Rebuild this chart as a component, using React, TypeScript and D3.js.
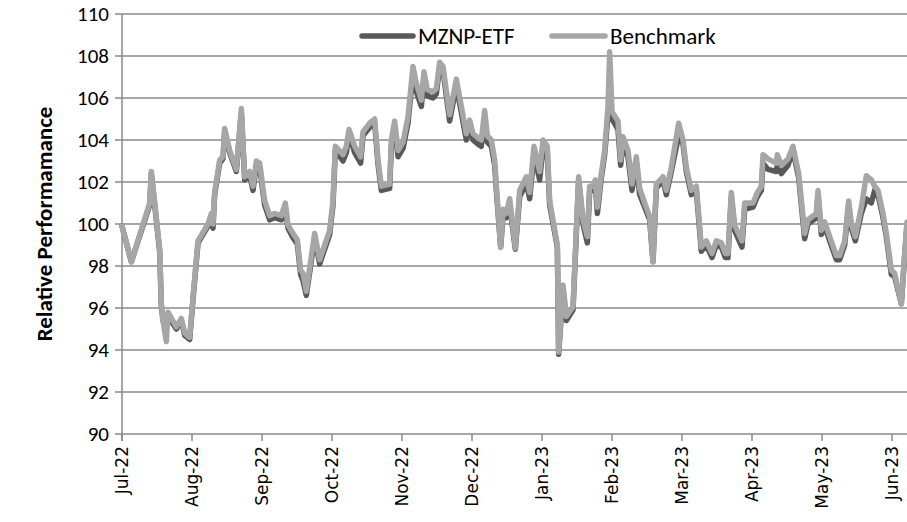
import * as d3 from 'd3'

const W = 907
const H = 522

// month labels, one per 21 trading days
const months = ['Jul-22', 'Aug-22', 'Sep-22', 'Oct-22', 'Nov-22', 'Dec-22', 'Jan-23', 'Feb-23', 'Mar-23', 'Apr-23', 'May-23', 'Jun-23']
const daysPerMonth = 21

// trading day index of each vertex
const days = [
  0, 2.8, 8.3, 8.8, 11.3, 11.8, 12.3, 13.3, 13.8, 16.3, 17.8, 18.8, 20.3,
  21.3, 22.8, 25.8, 26.8, 27.3, 27.8, 29.3, 30.3, 30.8, 32.3, 34.3, 35.8, 36.8, 38.3, 39.3, 40.3, 41.3,
  42.8, 44.3, 45.8, 47.8, 49.0, 49.8, 51.3, 52.6, 53.6, 54.3, 55.3, 57.8, 59.3, 62.3,
  63.3, 64.0, 66.3, 67.3, 68.1, 69.8, 71.6, 72.3, 74.3, 75.8, 76.8, 77.8, 80.3,
  80.8, 81.8, 82.8, 84.3, 85.8, 87.3, 88.3, 89.8, 90.6, 91.6, 93.3, 94.3, 95.3, 96.3,
  98.3, 100.3, 101.8, 103.3, 104.3, 105.3, 106.8, 107.8, 108.8, 109.6, 110.8, 111.8, 112.3, 113.6, 114.3, 115.3, 116.3,
  118.0, 119.3, 121.3, 122.3, 123.6, 125.3, 126.3, 127.6, 128.3, 130.6, 131.0, 132.3, 133.3, 135.3,
  137.0, 138.3, 139.6, 140.3, 141.3, 142.0, 142.6, 143.8, 144.8, 145.8, 146.3, 147.0, 148.8, 149.6, 150.3, 151.8, 153.0, 154.3, 155.3, 156.8, 158.3, 159.3,
  160.3, 162.3, 163.3, 164.8, 167.0, 168.3, 169.3, 170.8, 172.3, 173.8, 175.3, 177.0, 178.3, 179.8, 181.0, 181.8,
  182.8, 183.8, 186.0, 186.8, 189.3, 190.6, 191.8, 192.3, 193.8, 196.3, 196.6, 197.8, 199.8, 201.3, 203.0,
  204.8, 205.8, 208.3, 208.8, 209.8, 210.8, 212.3, 214.3, 215.3, 216.8, 218.0, 218.8, 220.0, 221.8, 223.3, 224.8, 225.8, 226.8,
  228.3, 229.3, 230.8, 231.8, 233.8, 234.8, 235.5,
]

const benchmark = [
  99.9, 98.2, 101.0, 102.5, 98.8, 96.2, 95.4, 94.4, 95.8, 95.1, 95.5, 94.8, 94.6,
  96.5, 99.2, 100.0, 100.5, 100.0, 101.5, 103.05, 103.2, 104.55, 103.5, 102.6, 105.5, 102.25, 102.5, 101.8, 103.0, 102.9,
  101.1, 100.4, 100.5, 100.4, 101.0, 99.95, 99.55, 99.25, 97.8, 97.65, 96.8, 99.55, 98.3, 99.7,
  101.1, 103.7, 103.3, 103.7, 104.5, 103.7, 103.2, 104.4, 104.8, 105.0, 103.05, 101.8, 101.9,
  104.0, 104.9, 103.5, 103.9, 105.1, 107.5, 106.7, 105.9, 107.25, 106.4, 106.3, 106.45, 107.7, 107.5,
  105.2, 106.9, 105.6, 104.3, 104.95, 104.3, 104.1, 104.0, 105.4, 104.2, 104.0, 103.05, 101.8, 98.9, 100.7, 100.5, 101.2,
  98.85, 101.6, 102.25, 101.5, 103.7, 102.5, 104.0, 103.7, 101.1, 99.0, 93.9, 97.1, 95.6, 96.05,
  102.25, 100.2, 99.4, 101.8, 101.8, 102.1, 100.8, 102.4, 103.5, 105.6, 108.2, 105.35, 104.9, 103.05, 104.15, 103.5, 101.9, 103.2, 101.7, 101.0, 100.35, 98.2,
  101.9, 102.25, 101.6, 102.7, 104.8, 104.0, 102.7, 101.6, 101.8, 98.9, 99.2, 98.6, 99.2, 99.1, 98.6, 98.6,
  101.5, 99.95, 99.2, 101.0, 101.0, 101.5, 101.8, 103.3, 103.1, 102.9, 103.3, 102.8, 103.1, 103.7, 102.4,
  99.55, 100.2, 100.5, 101.6, 99.7, 100.1, 99.4, 98.5, 98.5, 99.2, 101.1, 100.0, 99.4, 100.8, 102.3, 102.1, 101.8, 101.6,
  100.5, 99.55, 97.8, 97.65, 96.2, 98.6, 100.1,
]

const mznp = [
  99.9, 98.2, 100.9, 102.4, 98.7, 96.1, 95.4, 95.3, 95.6, 95.0, 95.4, 94.7, 94.5,
  96.4, 99.1, 99.9, 100.4, 99.8, 101.4, 102.9, 103.1, 104.4, 103.4, 102.5, 105.3, 102.1, 102.35, 101.6, 102.8, 102.7,
  100.9, 100.2, 100.3, 100.2, 100.8, 99.8, 99.35, 99.05, 97.6, 97.3, 96.6, 99.35, 98.1, 99.5,
  100.9, 103.5, 103.0, 103.4, 104.3, 103.4, 102.9, 104.2, 104.6, 104.8, 102.85, 101.6, 101.7,
  103.7, 104.6, 103.2, 103.6, 104.8, 107.2, 106.3, 105.6, 107.0, 106.1, 106.0, 106.2, 107.5, 107.3,
  104.9, 106.6, 105.3, 104.0, 104.7, 104.0, 103.8, 103.7, 105.1, 103.9, 103.7, 102.8, 101.6, 98.9, 100.4, 100.3, 100.9,
  98.8, 101.3, 101.95, 101.2, 103.3, 102.1, 103.6, 103.3, 100.9, 98.9, 93.8, 96.9, 95.4, 95.9,
  102.1, 100.0, 99.1, 101.6, 101.6, 101.9, 100.5, 102.2, 103.3, 105.2, 105.3, 105.0, 104.5, 102.8, 103.8, 103.2, 101.6, 102.9, 101.4, 100.8, 100.2, 98.2,
  101.7, 102.1, 101.4, 102.5, 104.2, 103.8, 102.5, 101.4, 101.6, 98.7, 99.0, 98.4, 99.0, 98.9, 98.4, 98.4,
  101.3, 99.7, 98.9, 100.7, 100.8, 101.3, 101.6, 102.9, 102.6, 102.5, 102.8, 102.4, 102.8, 103.5, 102.2,
  99.3, 100.0, 100.3, 101.4, 99.5, 99.9, 99.2, 98.3, 98.3, 99.0, 100.9, 99.8, 99.2, 100.5, 101.2, 101.0, 101.6, 101.4,
  100.3, 99.4, 97.6, 97.5, 96.2, 98.5, 100.0,
]

const yTicks = [90, 92, 94, 96, 98, 100, 102, 104, 106, 108, 110]

const DARK = '#595959'
const LIGHT = '#a6a6a6'
const GRID = '#8a8a8a'
const FONT = "Carlito, Calibri, 'Liberation Sans', Arial, sans-serif"

export default function App() {
  const left = 122
  const right = 907
  const top = 14
  const bottom = 434

  const x = d3.scaleLinear().domain([0, 235.5]).range([left, right])
  const y = d3.scaleLinear().domain([90, 110]).range([bottom, top])

  const n = Math.min(days.length, benchmark.length, mznp.length)
  const toPts = (vals: number[]) => d3.range(n).map((i) => [days[i], vals[i]] as [number, number])

  const line = d3
    .line<[number, number]>()
    .x((d) => x(d[0]))
    .y((d) => y(d[1]))

  const monthTicks = months.map((m, i) => ({ label: m, pos: x(i * daysPerMonth) }))

  return (
    <svg
      width={W}
      height={H}
      style={{ position: 'absolute', left: 0, top: 0, background: '#fff' }}
      fontFamily={FONT}
    >
      {/* gridlines */}
      {yTicks.map((t) => (
        <line key={t} x1={left - 7} x2={right} y1={y(t)} y2={y(t)} stroke={GRID} strokeWidth={1.5} />
      ))}
      {/* y tick labels */}
      {yTicks.map((t) => (
        <text key={'l' + t} x={left - 13} y={y(t)} dy="0.34em" textAnchor="end" fontSize={21} fill="#000">
          {t}
        </text>
      ))}
      {/* y axis line */}
      <line x1={left} x2={left} y1={top} y2={bottom + 7} stroke={GRID} strokeWidth={1.5} />
      {/* x ticks */}
      {monthTicks.map((m) => (
        <line key={'t' + m.label} x1={m.pos} x2={m.pos} y1={bottom} y2={bottom + 7} stroke={GRID} strokeWidth={1.5} />
      ))}
      {monthTicks.map((m) => (
        <text
          key={'x' + m.label}
          transform={`translate(${m.pos},${bottom + 12}) rotate(-90)`}
          dy="0.36em"
          textAnchor="end"
          fontFamily="'DejaVu Sans', Verdana, sans-serif"
          fontSize={17}
          fill="#000"
        >
          {m.label}
        </text>
      ))}
      {/* axis title */}
      <text
        transform={`translate(44,${(top + bottom) / 2}) rotate(-90)`}
        dy="0.35em"
        textAnchor="middle"
        fontWeight="bold"
        fontSize={23}
        fill="#000"
      >
        Relative Performamance
      </text>
      {/* series */}
      <path d={line(toPts(mznp)) ?? ''} fill="none" stroke={DARK} strokeWidth={5.5} strokeLinejoin="round" strokeLinecap="round" />
      <path d={line(toPts(benchmark)) ?? ''} fill="none" stroke={LIGHT} strokeWidth={5.5} strokeLinejoin="round" strokeLinecap="round" />
      {/* legend */}
      <line x1={362} x2={413} y1={36} y2={36} stroke={DARK} strokeWidth={5.5} strokeLinecap="round" />
      <text x={418} y={36} dy="0.35em" fontSize={23} fill="#000">MZNP-ETF</text>
      <line x1={552} x2={605} y1={36} y2={36} stroke={LIGHT} strokeWidth={5.5} strokeLinecap="round" />
      <text x={610} y={36} dy="0.35em" fontSize={23} fill="#000">Benchmark</text>
    </svg>
  )
}
